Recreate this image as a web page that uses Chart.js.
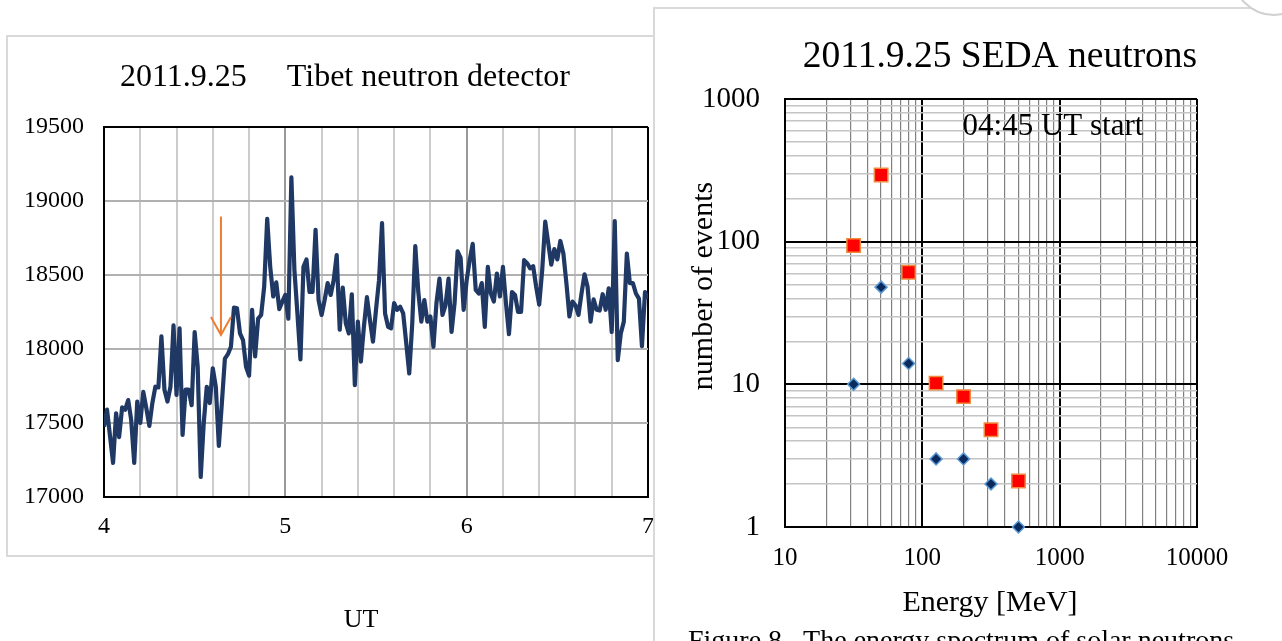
<!DOCTYPE html>
<html>
<head>
<meta charset="utf-8">
<script src="https://cdn.jsdelivr.net/npm/chart.js@4.4.1/dist/chart.umd.min.js"></script>
<style>
html,body{margin:0;padding:0;width:1282px;height:641px;overflow:hidden;background:#fff;}
#leftPanel{position:absolute;left:6px;top:35px;width:660px;height:518px;border:2px solid #d9d9d9;background:#fff;z-index:1;}
#c1{position:absolute;left:0;top:0;z-index:2;}
#rightPanel{position:absolute;left:653px;top:7px;width:700px;height:700px;border:2px solid #d9d9d9;background:#fff;z-index:3;}
#c2{position:absolute;left:654px;top:8px;z-index:4;}
#bubble{position:absolute;left:1232px;top:-68px;width:80px;height:80px;border-radius:50%;border:2px solid #d0d0d0;background:#fff;z-index:5;}
</style>
</head>
<body>
<div id="leftPanel"></div>
<canvas id="c1" width="654" height="641"></canvas>
<div id="rightPanel"></div>
<canvas id="c2" width="628" height="633"></canvas>
<div id="bubble"></div>
<script>
// ---------- Left chart data (Tibet neutron detector, 1-min counts, 4:00-7:00 UT) ----------
const startUT = 4;
const minutesPerSample = 1;
const tibetCounts = [
 17475,17590,17410,17230,17565,17405,17605,17590,17655,17520,
 17230,17645,17500,17710,17600,17480,17635,17745,17740,18085,
 17725,17645,17745,18160,17690,18140,17420,17725,17725,17620,
 18115,17880,17135,17500,17745,17635,17870,17745,17345,17635,
 17935,17965,18015,18280,18275,18105,18060,17880,17820,18265,
 17950,18205,18230,18420,18880,18555,18355,18450,18270,18320,
 18365,18205,19160,18535,18240,17930,18555,18605,18385,18385,
 18805,18330,18230,18330,18445,18365,18465,18635,18130,18415,
 18175,18105,18370,17755,18185,17915,18150,18350,18195,18050,
 18265,18465,18850,18240,18150,18140,18310,18265,18285,18240,
 18040,17835,18175,18695,18385,18185,18330,18185,18220,18015,
 18310,18475,18230,18295,18475,18115,18310,18660,18615,18265,
 18465,18600,18710,18400,18375,18445,18150,18555,18375,18320,
 18510,18355,18555,18310,18100,18385,18365,18250,18250,18600,
 18580,18545,18560,18420,18300,18535,18860,18715,18570,18675,
 18605,18730,18645,18445,18220,18320,18295,18230,18375,18505,
 18420,18185,18335,18265,18260,18370,18265,18410,18115,18865,
 17925,18105,18185,18645,18445,18445,18375,18340,18020,18385,
 18340
];
const utLabelValues = [4, 5, 6, 7];
const countTickValues = [17000, 17500, 18000, 18500, 19000, 19500];
const arrowUT = 4.645;
const arrowFrom = 18895;
const arrowTo = 18095;

// ---------- Right chart data (SEDA neutrons energy spectrum) ----------
const energiesMeV = [31.6, 50.1, 79.4, 125.9, 199.5, 316.2, 501.2];
const redCounts   = [94, 293, 61, 10.2, 8.2, 4.8, 2.1];
const blueCounts  = [10, 48, 14, 3, 3, 2, 1];
const energyGrid = [10,20,30,40,50,60,70,80,90,100,200,300,400,500,600,700,800,900,1000,2000,3000,4000,5000,6000,7000,8000,9000,10000];
const energyLabels = [10, 100, 1000, 10000];
const eventGrid = [1,2,3,4,5,6,7,8,9,10,20,30,40,50,60,70,80,90,100,200,300,400,500,600,700,800,900,1000];
const eventLabels = [1, 10, 100, 1000];

const FONT = '"Liberation Serif", "Times New Roman", serif';
Chart.defaults.font.family = FONT;
Chart.defaults.color = '#000';

const isInt = v => Math.abs(v - Math.round(v)) < 1e-6;

// ---------- Left chart ----------
const leftDecor = {
  id: 'leftDecor',
  afterDatasetsDraw(chart) {
    const ctx = chart.ctx, xs = chart.scales.x, ys = chart.scales.y;
    const ax = xs.getPixelForValue(arrowUT);
    const y1 = ys.getPixelForValue(arrowFrom), y2 = ys.getPixelForValue(arrowTo);
    ctx.save();
    ctx.strokeStyle = '#ED7D31';
    ctx.lineWidth = 2;
    ctx.beginPath();
    ctx.moveTo(ax, y1); ctx.lineTo(ax, y2);
    ctx.moveTo(ax - 10, y2 - 18); ctx.lineTo(ax, y2); ctx.lineTo(ax + 10, y2 - 18);
    ctx.stroke();
    ctx.restore();
  },
  afterDraw(chart) {
    const ctx = chart.ctx;
    ctx.save();
    ctx.fillStyle = '#000';
    ctx.textBaseline = 'alphabetic';
    ctx.textAlign = 'left';
    ctx.font = '32px ' + FONT;
    ctx.fillText('2011.9.25     Tibet neutron detector', 120, 86);
    ctx.textAlign = 'center';
    ctx.font = '26px ' + FONT;
    ctx.fillText('UT', 361, 627);
    ctx.restore();
  }
};

new Chart(document.getElementById('c1'), {
  type: 'line',
  data: {
    datasets: [{
      data: tibetCounts.map((v, i) => ({ x: startUT + i * minutesPerSample / 60, y: v })),
      borderColor: '#203864',
      borderWidth: 4.2,
      pointRadius: 0,
      tension: 0,
      fill: false,
      borderJoinStyle: 'round'
    }]
  },
  options: {
    responsive: false,
    animation: false,
    devicePixelRatio: 1,
    layout: { padding: { left: 0, right: 6, top: 127, bottom: 0 } },
    plugins: { legend: { display: false }, tooltip: { enabled: false }, title: { display: false } },
    scales: {
      x: {
        type: 'linear', min: 4, max: 7,
        afterFit(s) { s.height = 144; s.paddingLeft = 0; s.paddingRight = 0; },
        ticks: {
          stepSize: 0.2, autoSkip: false, maxRotation: 0, padding: 15,
          font: { size: 24 }, color: '#000',
          callback: v => (isInt(v) && utLabelValues.includes(Math.round(v))) ? String(Math.round(v)) : ''
        },
        grid: {
          drawTicks: false, lineWidth: 2,
          color: c => {
            const v = c.tick ? c.tick.value : 0;
            if (Math.abs(v - 4) < 1e-6 || Math.abs(v - 7) < 1e-6) return '#000';
            return isInt(v) ? '#999999' : '#cccccc';
          }
        },
        border: { display: true, color: '#000', width: 2 }
      },
      y: {
        min: 17000, max: 19500,
        afterFit(s) { s.width = 104; s.paddingTop = 0; s.paddingBottom = 0; },
        afterBuildTicks(s) { s.ticks = countTickValues.map(v => ({ value: v })); },
        ticks: { padding: 20, font: { size: 24 }, color: '#000', callback: v => String(v) },
        grid: {
          drawTicks: false, lineWidth: 2,
          color: c => (c.tick && (c.tick.value === 19500 || c.tick.value === 17000)) ? '#000' : '#b0b0b0'
        },
        border: { display: true, color: '#000', width: 2 }
      }
    }
  },
  plugins: [leftDecor]
});

// ---------- Right chart ----------
const OX = 654, OY = 8;
const rightDecor = {
  id: 'rightDecor',
  afterDraw(chart) {
    const ctx = chart.ctx;
    ctx.save();
    ctx.fillStyle = '#000';
    ctx.textBaseline = 'alphabetic';
    ctx.textAlign = 'center';
    ctx.font = '37.5px ' + FONT;
    ctx.fillText('2011.9.25 SEDA neutrons', 1000 - OX, 67 - OY);
    ctx.font = '31px ' + FONT;
    ctx.fillText('04:45 UT start', 1053 - OX, 135 - OY);
    ctx.font = '30px ' + FONT;
    ctx.fillText('Energy [MeV]', 990 - OX, 611 - OY);
    ctx.save();
    ctx.translate(712 - OX, 286 - OY);
    ctx.rotate(-Math.PI / 2);
    ctx.font = '30px ' + FONT;
    ctx.fillText('number of events', 0, 0);
    ctx.restore();
    ctx.textAlign = 'left';
    ctx.font = '28px ' + FONT;
    ctx.fillText('Figure 8   The energy spectrum of solar neutrons', 688 - OX, 649 - OY);
    ctx.restore();
  }
};

new Chart(document.getElementById('c2'), {
  type: 'scatter',
  data: {
    datasets: [
      {
        data: energiesMeV.map((e, i) => ({ x: e, y: blueCounts[i] })),
        pointStyle: 'rectRot', pointRadius: 6, pointHoverRadius: 6,
        backgroundColor: '#0b2a5e', borderColor: '#5b9bd5', borderWidth: 1.5,
        clip: false
      },
      {
        data: energiesMeV.map((e, i) => ({ x: e, y: redCounts[i] })),
        pointStyle: 'rect', pointRadius: 9.5, pointHoverRadius: 9.5,
        backgroundColor: '#ff0000', borderColor: '#f08a3c', borderWidth: 1.5,
        clip: false
      }
    ]
  },
  options: {
    responsive: false,
    animation: false,
    devicePixelRatio: 1,
    layout: { padding: { left: 0, right: 85, top: 91, bottom: 0 } },
    plugins: { legend: { display: false }, tooltip: { enabled: false }, title: { display: false } },
    scales: {
      x: {
        type: 'logarithmic', min: 10, max: 10000,
        afterFit(s) { s.height = 114; s.paddingLeft = 0; s.paddingRight = 0; },
        afterBuildTicks(s) { s.ticks = energyGrid.map(v => ({ value: v })); },
        ticks: {
          autoSkip: false, maxRotation: 0, padding: 16, font: { size: 25 }, color: '#000',
          callback: v => energyLabels.includes(v) ? String(v) : ''
        },
        grid: {
          drawTicks: false,
          color: c => (c.tick && energyLabels.includes(c.tick.value)) ? '#000' : '#808080',
          lineWidth: c => (c.tick && energyLabels.includes(c.tick.value)) ? 2 : 1.2
        },
        border: { display: true, color: '#000', width: 2 }
      },
      y: {
        type: 'logarithmic', min: 1, max: 1000,
        afterFit(s) { s.width = 131; s.paddingTop = 0; s.paddingBottom = 0; },
        afterBuildTicks(s) { s.ticks = eventGrid.map(v => ({ value: v })); },
        ticks: {
          autoSkip: false, padding: 25, font: { size: 29 }, color: '#000',
          callback: v => eventLabels.includes(v) ? String(v) : ''
        },
        grid: {
          drawTicks: false,
          color: c => (c.tick && eventLabels.includes(c.tick.value)) ? '#000' : '#c4c4c4',
          lineWidth: c => (c.tick && eventLabels.includes(c.tick.value)) ? 2 : 1.5
        },
        border: { display: true, color: '#000', width: 2 }
      }
    }
  },
  plugins: [rightDecor]
});
</script>
</body>
</html>
